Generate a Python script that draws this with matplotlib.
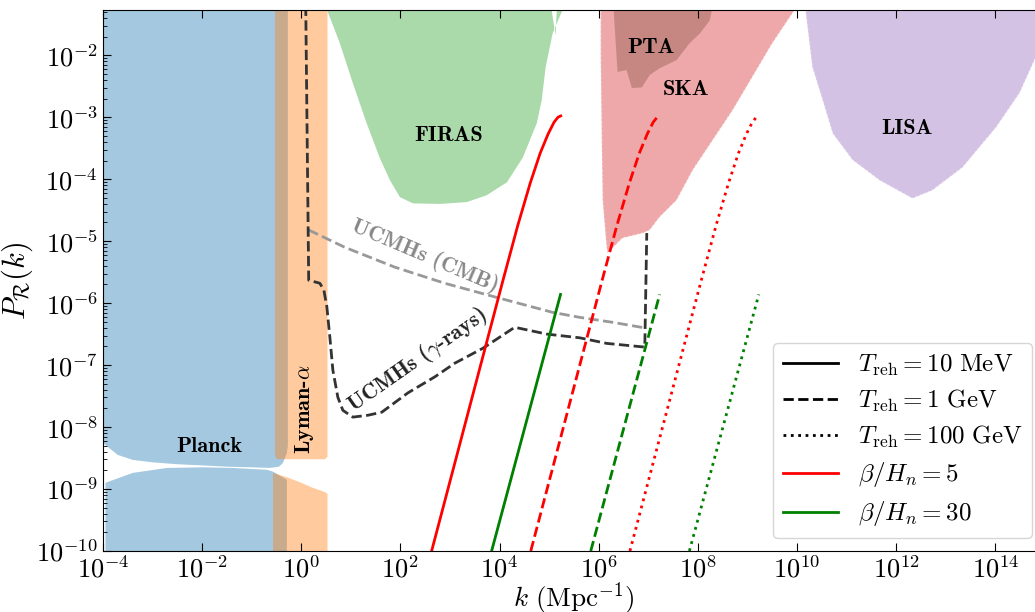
import numpy as np
import matplotlib
matplotlib.use('Agg')
from matplotlib import pyplot as plt
from matplotlib.lines import Line2D

plt.rcParams['mathtext.fontset'] = 'cm'
plt.rcParams['font.family'] = 'serif'
plt.rcParams['font.serif'] = ['cmr10']
plt.rcParams['axes.formatter.use_mathtext'] = True

# constraint regions, given as (log10 k, log10 P) outlines
planck_hi_logk = [-4, -3.7, -3.4, -3, -2.5, -1.98, -1.5, -1, -0.63, -0.45, -0.37, -0.29, -0.27, -0.27, -4]
planck_hi_logp = [-8.26, -8.45, -8.53, -8.57, -8.6, -8.62, -8.64, -8.65, -8.66, -8.64, -8.58, -8.42, -8.3, 0, 0]
planck_lo_logk = [-3.95, -3.4, -2.71, -1.98, -1.38, -0.69, -0.57, -0.29, -0.29, -3.95]
planck_lo_logp = [-8.9, -8.74, -8.66, -8.65, -8.66, -8.69, -8.72, -8.85, -11, -11]

lyman_hi_logk = [-0.53, -0.53, -0.5, -0.45, 0.48, 0.53, 0.53]
lyman_hi_logp = [0, -8.46, -8.51, -8.52, -8.52, -8.48, 0]
lyman_lo_logk = [-0.57, -0.29, -0.03, 0.23, 0.48, 0.53, 0.53, -0.57]
lyman_lo_logp = [-8.74, -8.81, -8.89, -8.98, -9.05, -9.08, -11, -11]

firas_logk = [0.4, 0.52, 0.78, 1.04, 1.32, 1.58, 1.79, 1.99, 2.25, 2.79, 3.34, 3.74, 4.15, 4.47,
              4.75, 4.85, 4.93, 5.07, 5.27, 5.35, 5.17, 5.13, 5.05, 5.02]
firas_logp = [-1.0, -1.27, -1.81, -2.45, -3.1, -3.65, -4.02, -4.29, -4.39, -4.40, -4.37, -4.26, -4.05, -3.65,
              -3.1, -2.73, -2.19, -1.65, -1.27, -1.0, -1.0, -1.68, -1.27, -1.0]

ska_logk = [6.04, 6.04, 6.06, 6.08, 6.16, 6.18, 6.48, 6.89, 7.03, 7.23, 7.57, 7.9, 8.3, 8.7, 9.1, 9.5, 9.91, 10.2]
ska_logp = [-1.0, -2.0, -3.26, -4.34, -5.10, -5.19, -4.95, -4.87, -4.82, -4.61, -4.34, -3.85, -3.37, -2.89,
            -2.35, -1.81, -1.32, -1.0]

pta_logk = [6.28, 6.38, 6.56, 6.67, 6.87, 7.03, 7.23, 7.57, 7.83, 8.04, 8.24, 8.35]
pta_logp = [-1.0, -2.27, -2.24, -2.53, -2.52, -2.32, -2.21, -2.08, -1.81, -1.65, -1.44, -1.0]

lisa_logk = [10.13, 10.31, 10.52, 10.72, 11.12, 11.67, 12.33, 12.73, 13.34, 14.02, 14.49, 14.79, 15.2, 15.5]
lisa_logp = [-1.0, -2.19, -2.73, -3.26, -3.69, -4.02, -4.31, -4.18, -3.81, -3.16, -2.61, -2.08, -1.4, -1.0]

# UCMH bounds
ucmh_gamma_logk = [0.09, 0.15, 0.375, 0.456, 0.516, 0.577, 0.637, 0.738, 0.839, 1.04, 1.343, 1.625, 2.149,
                   2.694, 3.097, 3.661, 4.306, 4.952, 5.617, 6.16, 6.93, 6.97]
ucmh_gamma_logp = [-1.2, -5.63, -5.68, -5.79, -6.06, -6.55, -7.08, -7.52, -7.73, -7.84, -7.81, -7.76, -7.45,
                   -7.19, -6.97, -6.73, -6.39, -6.5, -6.56, -6.65, -6.71, -4.87]
ucmh_cmb_logk = [0.15, 0.879, 1.887, 2.895, 3.903, 5.073, 5.617, 6.28, 6.93]
ucmh_cmb_logp = [-4.82, -5.10, -5.42, -5.68, -5.90, -6.15, -6.23, -6.31, -6.40]

# phase transition spectra, beta/H_n = 5 and 30, for T_reh = 10 MeV, 1 GeV, 100 GeV
red_logk = {
    '10MeV': [2.63, 4.07, 4.37, 4.62, 4.82, 4.98, 5.10, 5.18, 5.234],
    '1GeV': [4.63, 6.07, 6.37, 6.62, 6.82, 6.98, 7.10, 7.18, 7.234],
    '100GeV': [6.63, 8.07, 8.37, 8.62, 8.82, 8.98, 9.10, 9.18, 9.234],
}
red_logp = [-10, -5.63, -4.74, -4.06, -3.58, -3.27, -3.08, -3.0, -2.98]
green_logk = {
    '10MeV': [3.84, 5.23],
    '1GeV': [5.84, 7.23],
    '100GeV': [7.83, 9.23],
}
green_logp = [-10, -5.86]
styles = {'10MeV': '-', '1GeV': '--', '100GeV': ':'}


def pw(a):
    return 10.0 ** np.asarray(a)


fig = plt.figure(figsize=(10.35, 6.12), dpi=100)
ax = fig.add_axes([0.0995, 0.0997, 0.910, 0.884])

ax.fill(pw(planck_hi_logk), pw(planck_hi_logp), color='tab:blue', alpha=0.4, lw=0)
ax.fill(pw(planck_lo_logk), pw(planck_lo_logp), color='tab:blue', alpha=0.4, lw=0)
ax.fill(pw(lyman_hi_logk), pw(lyman_hi_logp), color='tab:orange', alpha=0.4, lw=0)
ax.fill(pw(lyman_lo_logk), pw(lyman_lo_logp), color='tab:orange', alpha=0.4, lw=0)
ax.fill(pw(firas_logk), pw(firas_logp), color='tab:green', alpha=0.4, lw=0)
ax.fill(pw(ska_logk), pw(ska_logp), facecolor='tab:red', alpha=0.4, edgecolor='white', ls=':', lw=1.2)
ax.fill(pw(pta_logk), pw(pta_logp), color='tab:brown', alpha=0.4, lw=0)
ax.fill(pw(lisa_logk), pw(lisa_logp), facecolor='tab:purple', alpha=0.4, edgecolor='white', ls=':', lw=1.2)

ax.plot(pw(ucmh_cmb_logk), pw(ucmh_cmb_logp), '--', color='#999999', lw=2)
ax.plot(pw(ucmh_gamma_logk), pw(ucmh_gamma_logp), '--', color='#333333', lw=2)

for key, ls in styles.items():
    ax.plot(pw(red_logk[key]), pw(red_logp), ls=ls, color='red', lw=2)
    ax.plot(pw(green_logk[key]), pw(green_logp), ls=ls, color='green', lw=2)

lab = dict(fontfamily='cmb10', fontsize=16, ha='center', va='center')
ax.text(10**-1.86, 10**-8.31, 'Planck', **lab)
ax.text(10**0.07, 10**-7.71, r'Lyman-$\alpha$', rotation=90, **lab)
ax.text(10**2.98, 10**-3.29, 'FIRAS', **lab)
ax.text(10**7.05, 10**-1.87, 'PTA', **lab)
ax.text(10**7.77, 10**-2.56, 'SKA', **lab)
ax.text(10**12.21, 10**-3.18, 'LISA', **lab)
ax.text(10**2.49, 10**-5.23, 'UCMHs (CMB)', rotation=-23, color='#888888', **lab)
ax.text(10**2.34, 10**-6.92, r'UCMHs ($\gamma$-rays)', rotation=35, color='#222222', **lab)

ax.set_xscale('log')
ax.set_yscale('log')
ax.set_xlim(1e-4, 1e15)
ax.set_ylim(1e-10, 10**-1.27)
ax.set_xticks([10.0 ** i for i in range(-4, 15, 2)])
ax.xaxis.set_minor_locator(matplotlib.ticker.NullLocator())
ax.set_yticks([10.0 ** i for i in range(-10, -1)])
ax.yaxis.set_minor_locator(matplotlib.ticker.LogLocator(base=10, subs=np.arange(2, 10), numticks=20))
ax.yaxis.set_minor_formatter(matplotlib.ticker.NullFormatter())
ax.tick_params(which='both', direction='in', top=True, right=True, labelsize=19)
ax.tick_params(which='major', length=6)
ax.tick_params(which='minor', length=3)

ax.set_xlabel(r'$k\ (\mathrm{Mpc}^{-1})$', fontsize=19.5, labelpad=-1.5)
ax.set_ylabel(r'$P_\mathcal{R}(k)$', fontsize=22, labelpad=1)

handles = [
    Line2D([], [], color='k', ls='-', lw=2),
    Line2D([], [], color='k', ls='--', lw=2),
    Line2D([], [], color='k', ls=':', lw=2),
    Line2D([], [], color='red', ls='-', lw=2),
    Line2D([], [], color='green', ls='-', lw=2),
]
labels = [
    r'$T_{\rm reh} = 10\ {\rm MeV}$',
    r'$T_{\rm reh} = 1\ {\rm GeV}$',
    r'$T_{\rm reh} = 100\ {\rm GeV}$',
    r'$\beta/H_n = 5$',
    r'$\beta/H_n = 30$',
]
ax.legend(handles, labels, loc='lower right', fontsize=18, handlelength=2.2, labelspacing=0.4)

fig.savefig('out.png', dpi=100)
